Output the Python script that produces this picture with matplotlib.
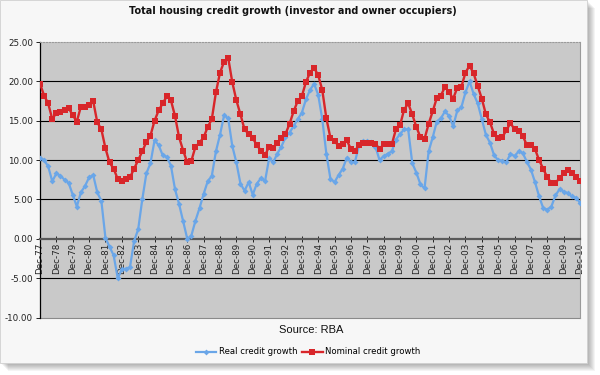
"""
Total housing credit growth chart (RBA data)
Quarterly, Dec-77 to Dec-10
"""

import matplotlib
matplotlib.use("Agg")
import matplotlib.pyplot as plt
from matplotlib.patches import Rectangle

# Year tick labels (one per December quarter)
year_labels = ['Dec-77', 'Dec-78', 'Dec-79', 'Dec-80', 'Dec-81', 'Dec-82', 'Dec-83',
               'Dec-84', 'Dec-85', 'Dec-86', 'Dec-87', 'Dec-88', 'Dec-89', 'Dec-90',
               'Dec-91', 'Dec-92', 'Dec-93', 'Dec-94', 'Dec-95', 'Dec-96', 'Dec-97',
               'Dec-98', 'Dec-99', 'Dec-00', 'Dec-01', 'Dec-02', 'Dec-03', 'Dec-04',
               'Dec-05', 'Dec-06', 'Dec-07', 'Dec-08', 'Dec-09', 'Dec-10']

# Nominal credit growth, % yoy, quarterly from Dec-77
nominal_growth = [
    19.7,
    18.2, 17.2, 15.2, 16.0,   # 1978
    16.1, 16.3, 16.6, 15.7,   # 1979
    14.9, 16.8, 16.7, 17.0,   # 1980
    17.5, 14.8, 13.9, 11.5,   # 1981
    9.7, 8.9, 7.6, 7.3,       # 1982
    7.6, 7.8, 8.9, 10.0,      # 1983
    11.1, 12.3, 13.1, 15.0,   # 1984
    16.3, 17.2, 18.1, 17.6,   # 1985
    15.6, 12.9, 11.2, 9.7,    # 1986
    9.9, 11.7, 12.2, 12.9,    # 1987
    14.2, 15.2, 18.6, 21.1,   # 1988
    22.5, 23.0, 19.9, 17.6,   # 1989
    15.8, 13.9, 13.3, 12.8,   # 1990
    11.9, 11.2, 10.6, 11.7,   # 1991
    11.5, 12.2, 12.8, 13.3,   # 1992
    14.6, 16.2, 17.5, 18.1,   # 1993
    19.9, 21.1, 21.7, 20.8,   # 1994
    18.9, 15.3, 12.8, 12.4,   # 1995
    11.8, 12.0, 12.5, 11.4,   # 1996
    11.2, 11.9, 12.2, 12.2,   # 1997
    12.2, 12.1, 11.4, 12.0,   # 1998
    12.0, 12.0, 13.9, 14.4,   # 1999
    16.4, 17.2, 15.8, 14.2,   # 2000
    12.9, 12.7, 14.6, 16.2,   # 2001
    17.9, 18.2, 19.3, 18.6,   # 2002
    17.8, 19.2, 19.3, 21.1,   # 2003
    22.0, 21.0, 19.4, 17.8,   # 2004
    15.8, 14.8, 13.3, 12.8,   # 2005
    12.9, 13.8, 14.7, 13.9,   # 2006
    13.7, 13.1, 11.9, 11.9,   # 2007
    11.4, 10.0, 8.9, 7.8,     # 2008
    7.1, 7.1, 7.7, 8.3,       # 2009
    8.8, 8.3, 7.9, 7.4,       # 2010
]

# Real credit growth, % yoy, quarterly from Dec-77
real_growth = [
    10.3,
    10.0, 9.2, 7.3, 8.3,      # 1978
    8.0, 7.5, 7.1, 5.6,       # 1979
    4.1, 5.9, 6.7, 7.8,       # 1980
    8.1, 5.9, 4.8, 0.1,       # 1981
    -1.0, -2.1, -5.0, -3.9,   # 1982
    -3.8, -3.6, -0.3, 1.2,    # 1983
    5.0, 8.3, 9.6, 12.5,      # 1984
    11.9, 10.6, 10.4, 9.3,    # 1985
    6.3, 4.4, 2.2, 0.0,       # 1986
    0.4, 2.3, 3.9, 5.7,       # 1987
    7.3, 8.0, 11.1, 13.2,     # 1988
    15.7, 15.3, 11.8, 9.7,    # 1989
    7.0, 6.1, 7.2, 5.6,       # 1990
    7.0, 7.7, 7.3, 10.2,      # 1991
    9.7, 10.8, 11.7, 12.9,    # 1992
    13.5, 14.3, 15.2, 16.0,   # 1993
    17.7, 18.9, 19.7, 18.3,   # 1994
    15.2, 10.8, 7.6, 7.2,     # 1995
    8.1, 8.9, 10.3, 9.7,      # 1996
    9.8, 11.9, 12.4, 12.4,    # 1997
    12.3, 11.7, 10.0, 10.5,   # 1998
    10.8, 11.1, 12.6, 13.3,   # 1999
    13.9, 13.9, 9.6, 8.4,     # 2000
    6.9, 6.4, 11.1, 12.9,     # 2001
    14.9, 15.3, 16.2, 15.6,   # 2002
    14.3, 16.3, 16.7, 18.6,   # 2003
    20.0, 18.4, 17.2, 15.2,   # 2004
    13.2, 12.2, 10.6, 10.0,   # 2005
    9.9, 9.7, 10.8, 10.5,     # 2006
    11.1, 10.9, 9.8, 8.8,     # 2007
    7.2, 5.4, 3.9, 3.7,       # 2008
    4.1, 5.5, 6.3, 6.0,       # 2009
    5.8, 5.4, 5.2, 4.6,       # 2010
]

y_ticks = [-10, -5, 0, 5, 10, 15, 20, 25]

W, H = 600, 375
fig = plt.figure(figsize=(W / 100, H / 100), dpi=100)
fig.patch.set_facecolor('white')

# panel with soft drop shadow (right + bottom), drawn behind the axes
for k in range(1, 9):
    fig.add_artist(Rectangle((k / W, 12 / H - k / H), 587 / W, (H - 12) / H,
                             transform=fig.transFigure, facecolor='black',
                             alpha=0.045, edgecolor='none', zorder=-3))
fig.add_artist(Rectangle((0, 12 / H), 587 / W, (H - 12) / H,
                         transform=fig.transFigure, facecolor='#f7f7f7',
                         edgecolor='#d0d0d0', lw=0.6, zorder=-2))

ax = fig.add_axes([40 / W, 1 - 317.5 / H, 540 / W, 275.5 / H])
ax.set_facecolor('#c9c9c9')

# x axis sits on the zero line (set before ticks, it resets them)
ax.spines['bottom'].set_position(('data', 0))

quarters = list(range(len(nominal_growth)))

ax.plot(quarters, real_growth, color='#6aa6e8', lw=1.6, marker='D',
        markersize=3, markeredgewidth=0, label='Real credit growth', zorder=3)
ax.plot(quarters, nominal_growth, color='#d8262a', lw=1.7, marker='s',
        markersize=4.4, markeredgewidth=0, label='Nominal credit growth', zorder=4)

# grid lines at every 5, black
for yv in [5, 10, 15, 20, -5]:
    ax.axhline(yv, color='black', lw=0.8, zorder=1)
ax.axhline(-10, color='#8a8a8a', lw=0.8, zorder=1, clip_on=False)

ax.set_ylim(-10, 25)
ax.set_xlim(0, len(nominal_growth) - 1)
ax.set_yticks(y_ticks)
ax.set_yticklabels([f'{v:.2f}' for v in y_ticks])

ax.set_xticks(quarters[::4])
ax.set_xticklabels(year_labels)

ax.spines['bottom'].set_color('#5a5a5a')
ax.spines['bottom'].set_linewidth(1.6)
ax.spines['left'].set_color('black')
ax.spines['left'].set_linewidth(0.9)
ax.spines['top'].set_color('#9a9a9a')
ax.spines['top'].set_linestyle(':')
ax.spines['right'].set_color('#9a9a9a')
ax.spines['top'].set_linewidth(0.8)
ax.spines['right'].set_linewidth(0.8)

ax.tick_params(axis='y', labelsize=6.3, colors='#222222', length=3, width=0.7, pad=2)
ax.tick_params(axis='x', labelsize=6.3, colors='#222222', direction='inout',
               length=4, width=0.7, pad=1, labelrotation=90)

fig.text(293 / W, 1 - 11 / H, 'Total housing credit growth (investor and owner occupiers)',
         ha='center', va='center', fontsize=7.0, fontweight='bold', color='#111111')
fig.text(311 / W, 1 - 330 / H, 'Source: RBA', ha='center', va='center',
         fontsize=8, family='Liberation Sans', color='#111111')

fig.legend(loc='center', bbox_to_anchor=(308 / W, 1 - 352 / H), ncol=2, frameon=False,
           fontsize=6.1, handlelength=2.4, handletextpad=0.3, columnspacing=0.6)

plt.savefig('out.png', dpi=100, facecolor=fig.get_facecolor())
